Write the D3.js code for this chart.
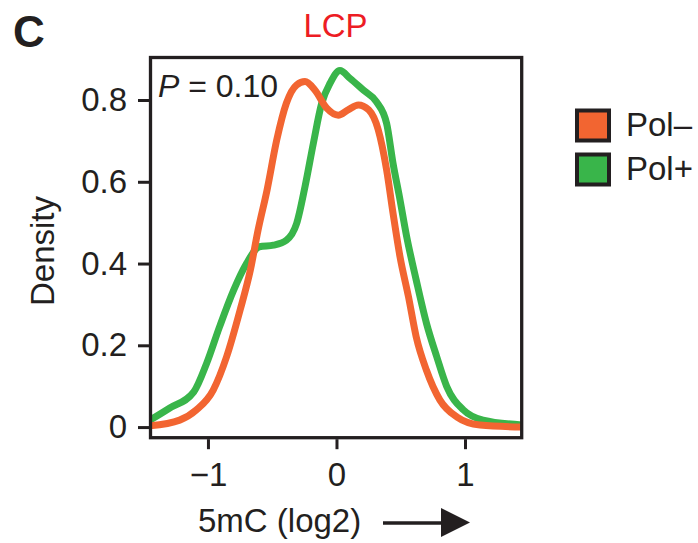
<!DOCTYPE html>
<html>
<head>
<meta charset="utf-8">
<script src="https://cdn.jsdelivr.net/npm/d3@7"></script>
<style>
  body { margin: 0; background: #fff; }
  text { font-family: "Liberation Sans", Arial, sans-serif; fill: #231f20; }
</style>
</head>
<body>
<div id="chart"></div>
<script>
const width = 698, height = 543;

// data
const seriesNames = ["Pol\u2013", "Pol+"];
const seriesColors = ["#f26531", "#39b54a"];
const xTicks = [-1, 0, 1];
const yTicks = [0, 0.2, 0.4, 0.6, 0.8];

const polMinusX = [-1.45, -1.22, -1.09, -0.96, -0.855, -0.75, -0.67, -0.61, -0.54, -0.465, -0.39, -0.31, -0.245, -0.167, -0.076, 0.014, 0.09, 0.17, 0.25, 0.325, 0.39, 0.44, 0.494, 0.56, 0.62, 0.70, 0.805, 0.935, 1.117, 1.45];
const polMinusY = [0.003, 0.017, 0.042, 0.09, 0.172, 0.286, 0.384, 0.482, 0.58, 0.702, 0.792, 0.837, 0.845, 0.824, 0.78, 0.763, 0.776, 0.788, 0.776, 0.727, 0.629, 0.523, 0.417, 0.319, 0.221, 0.139, 0.066, 0.025, 0.005, 0.0];

const polPlusX = [-1.45, -1.30, -1.11, -1.01, -0.91, -0.80, -0.70, -0.60, -0.49, -0.39, -0.31, -0.245, -0.18, -0.115, -0.05, 0.027, 0.105, 0.21, 0.31, 0.39, 0.44, 0.49, 0.546, 0.62, 0.70, 0.78, 0.858, 0.987, 1.14, 1.45];
const polPlusY = [0.017, 0.046, 0.086, 0.156, 0.245, 0.335, 0.40, 0.441, 0.445, 0.457, 0.498, 0.588, 0.694, 0.792, 0.841, 0.872, 0.853, 0.824, 0.796, 0.743, 0.645, 0.563, 0.466, 0.36, 0.254, 0.172, 0.099, 0.042, 0.017, 0.005];

const box = { left: 150.5, right: 521.7, top: 57.5, bottom: 437.7 };

const svg = d3.select("#chart")
	.append("svg")
	.attr("width", width)
	.attr("height", height);

const x = d3.scaleLinear().domain([-1.447, 1.441]).range([box.left, box.right]);
const y = d3.scaleLinear().domain([-0.026, 0.904]).range([box.bottom, box.top]);

// clip for curves
svg.append("clipPath").attr("id", "clip")
	.append("rect")
	.attr("x", box.left).attr("y", box.top)
	.attr("width", box.right - box.left).attr("height", box.bottom - box.top);

const line = d3.line()
	.x(d => x(d[0]))
	.y(d => y(d[1]))
	.curve(d3.curveMonotoneX);

const series = [
	d3.zip(polPlusX, polPlusY),
	d3.zip(polMinusX, polMinusY)
];
const seriesColorOrder = [seriesColors[1], seriesColors[0]];

svg.append("g")
	.attr("clip-path", "url(#clip)")
	.selectAll("path")
	.data(series)
	.enter()
	.append("path")
	.attr("d", line)
	.attr("fill", "none")
	.attr("stroke", (d, i) => seriesColorOrder[i])
	.attr("stroke-width", 7)
	.attr("stroke-linejoin", "round");

// frame
svg.append("rect")
	.attr("x", box.left).attr("y", box.top)
	.attr("width", box.right - box.left).attr("height", box.bottom - box.top)
	.attr("fill", "none")
	.attr("stroke", "#231f20")
	.attr("stroke-width", 3.3);

// axes
const yAxis = svg.append("g")
	.attr("transform", `translate(${box.left - 1.5},0)`)
	.call(d3.axisLeft(y).tickValues(yTicks).tickSize(11).tickPadding(11)
		.tickFormat(d => d === 0 ? "0" : d3.format(".1f")(d)));

const xAxis = svg.append("g")
	.attr("transform", `translate(0,${box.bottom + 1.5})`)
	.call(d3.axisBottom(x).tickValues(xTicks).tickSize(10).tickPadding(13)
		.tickFormat(d => d < 0 ? "\u2212" + Math.abs(d) : d));

[yAxis, xAxis].forEach(ax => {
	ax.select(".domain").remove();
	ax.selectAll(".tick line").attr("stroke", "#231f20").attr("stroke-width", 3);
	ax.selectAll(".tick text")
		.attr("font-family", "Liberation Sans, Arial, sans-serif")
		.attr("font-size", 33)
		.attr("fill", "#231f20");
});

// titles
svg.append("text")
	.attr("x", 13).attr("y", 47)
	.attr("font-size", 44).attr("font-weight", "bold")
	.text("C");

svg.append("text")
	.attr("x", 335.5).attr("y", 37)
	.attr("text-anchor", "middle")
	.attr("font-size", 33)
	.style("fill", "#ed1c24")
	.text("LCP");

const pText = svg.append("text")
	.attr("x", 158).attr("y", 97)
	.attr("font-size", 32);
pText.append("tspan").attr("font-style", "italic").text("P");
pText.append("tspan").text(" = 0.10");

svg.append("text")
	.attr("transform", "translate(54,251) rotate(-90)")
	.attr("text-anchor", "middle")
	.attr("font-size", 33)
	.text("Density");

svg.append("text")
	.attr("x", 198).attr("y", 532)
	.attr("font-size", 33)
	.text("5mC (log2)");

// arrow
svg.append("line")
	.attr("x1", 383).attr("x2", 446)
	.attr("y1", 523).attr("y2", 523)
	.attr("stroke", "#231f20").attr("stroke-width", 3.5);
svg.append("path")
	.attr("d", "M441,508 L470,522.5 L441,537 Z")
	.attr("fill", "#231f20");

// legend
const legend = svg.append("g").selectAll("g")
	.data(seriesNames)
	.enter()
	.append("g")
	.attr("transform", (d, i) => `translate(0,${i * 44})`);

legend.append("rect")
	.attr("x", 577).attr("y", 110.5)
	.attr("width", 32).attr("height", 30)
	.attr("fill", (d, i) => seriesColors[i])
	.attr("stroke", "#231f20")
	.attr("stroke-width", 4);

legend.append("text")
	.attr("x", 626).attr("y", 136)
	.attr("font-size", 33)
	.text(d => d);
</script>
</body>
</html>
